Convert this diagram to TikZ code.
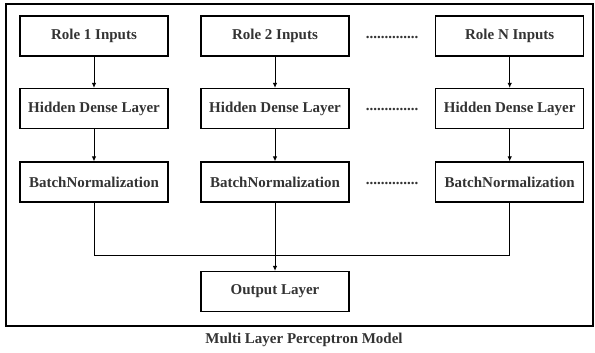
\documentclass[tikz,border=0pt]{standalone}
\usepackage{fontspec}
\setmainfont{Liberation Serif}
\usetikzlibrary{arrows.meta}
\definecolor{txt}{HTML}{333333}
\tikzset{
  layerbox/.style={draw=black, line width=1.2pt, minimum width=148pt, minimum height=40pt, inner sep=0pt,
    font=\fontsize{15}{17}\selectfont\bfseries, text=txt},
  conn/.style={line width=1pt, -{Latex[length=5pt,width=4.5pt]}},
  plainconn/.style={line width=1pt},
  dotsnode/.style={font=\fontsize{15}{17}\selectfont\bfseries, text=txt, inner sep=0pt},
}
\begin{document}
\begin{tikzpicture}[x=1pt,y=-1pt]
\useasboundingbox (0,0) rectangle (595,353);
\draw[line width=1.3pt] (6,4) rectangle (593,326);
% column 1
\node[layerbox] (r1) at (94,36) {Role 1 Inputs};
\node[layerbox] (h1) at (94,108.5) {Hidden Dense Layer};
\node[layerbox] (b1) at (94,182) {BatchNormalization};
% column 2
\node[layerbox] (r2) at (275,36) {Role 2 Inputs};
\node[layerbox] (h2) at (275,108.5) {Hidden Dense Layer};
\node[layerbox] (b2) at (275,182) {BatchNormalization};
% column 3
\node[layerbox] (r3) at (509.7,36) {Role N Inputs};
\node[layerbox] (h3) at (509.7,108.5) {Hidden Dense Layer};
\node[layerbox] (b3) at (509.7,182) {BatchNormalization};
% dots
\node[dotsnode] (d1) at (392,37) {..............};
\node[dotsnode] (d2) at (392,109.5) {..............};
\node[dotsnode] (d3) at (392,183) {..............};
% output
\node[layerbox] (out) at (275,291.5) {Output Layer};
% caption
\node[dotsnode] (cap) at (304,340) {Multi Layer Perceptron Model};
% connectors
\draw[conn] (r1) -- (h1);
\draw[conn] (h1) -- (b1);
\draw[conn] (r2) -- (h2);
\draw[conn] (h2) -- (b2);
\draw[conn] (r3) -- (h3);
\draw[conn] (h3) -- (b3);
\coordinate (j1) at (94,255);
\coordinate (j3) at (509.7,255);
\draw[plainconn] (b1.south) -- (j1) -- (j3) -- (b3.south);
\draw[conn] (b2) -- (out);
\end{tikzpicture}
\end{document}
